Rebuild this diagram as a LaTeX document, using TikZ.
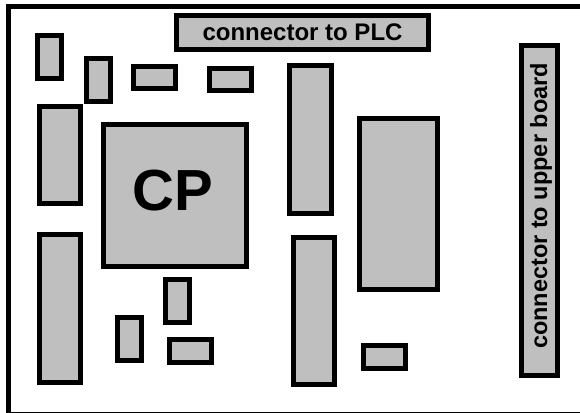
\documentclass[tikz,border=0pt]{standalone}
\usepackage{fontspec}
\setmainfont{Liberation Sans}
\usepackage{xcolor}
\usepackage{tikz}
\usetikzlibrary{positioning}
\tikzset{
  chip/.style={draw=black,line width=5pt,fill=black!25,line join=miter},
  chiptext/.style={inner sep=0pt,font=\bfseries\fontsize{24}{28}\selectfont},
}
\begin{document}
\begin{tikzpicture}[x=1pt,y=-1pt]
  \useasboundingbox (0,0) rectangle (580,412);
  \fill[white] (0,0) rectangle (580,412);
  % board outline runs off the page at right and bottom
  \draw[line width=5pt] (8,7) rectangle (590,414);
  % connectors
  \draw[chip] (176.8,15.8) rectangle (428.8,49.2);
  \draw[chip] (521.8,45.5) rectangle (557.8,375.8);
  % small parts
  \draw[chip] (37.2,35.8) rectangle (61.2,78.5);
  \draw[chip] (86.8,58.5) rectangle (110.8,101.2);
  \draw[chip] (133.2,66.5) rectangle (175.2,88.2);
  \draw[chip] (209.5,68.5) rectangle (251.5,90.5);
  \draw[chip] (165.2,279.5) rectangle (189.2,322.2);
  \draw[chip] (117.5,317.8) rectangle (141.5,360.8);
  \draw[chip] (169.8,339.8) rectangle (211.8,362.2);
  \draw[chip] (363.2,345.8) rectangle (405.2,368.2);
  % long parts
  \draw[chip] (39.2,106.2) rectangle (80.8,203.5);
  \draw[chip] (39.2,234.8) rectangle (80.8,382.8);
  \draw[chip] (289.8,65.2) rectangle (331.8,213.2);
  \draw[chip] (293.2,237.2) rectangle (334.8,384.8);
  \draw[chip] (359.2,118.8) rectangle (437.8,289.5);
  % processor
  \draw[chip] (103.5,124.2) rectangle (246.5,266.8);
  \node[chiptext,font=\bfseries\fontsize{58}{58}\selectfont] (cp) at (172.5,191) {CP};
  \node[chiptext] (plc) at (302.5,32.5) {connector to PLC};
  \node[chiptext,rotate=90,font=\bfseries\fontsize{23.5}{28}\selectfont] (upper) at (541,206) {connector to upper board};
\end{tikzpicture}
\end{document}
